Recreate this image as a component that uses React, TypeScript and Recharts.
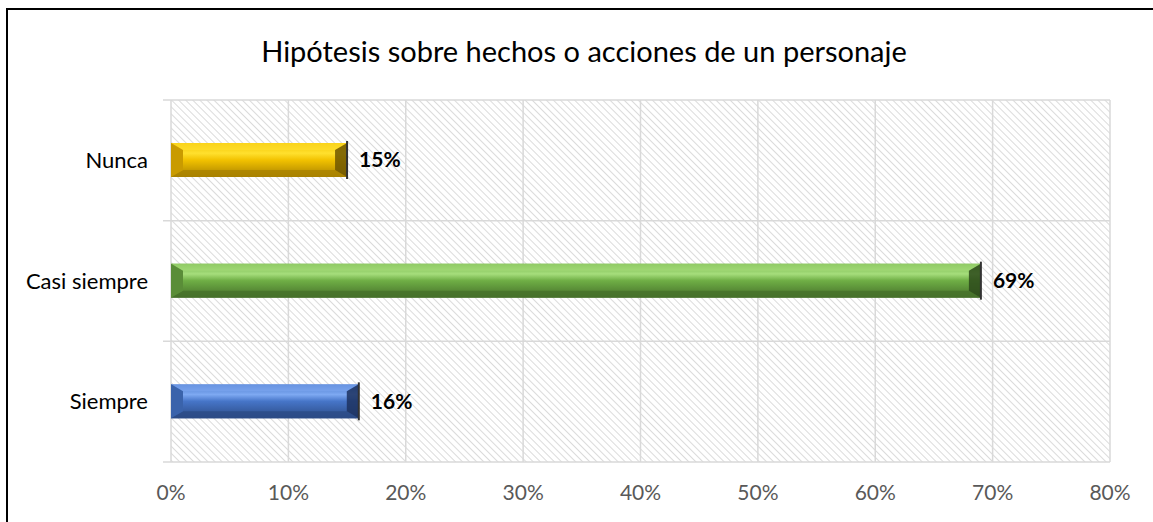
import { BarChart, Bar, XAxis, YAxis, CartesianGrid, LabelList, Cell } from "recharts";

const categories = ["Nunca", "Casi siempre", "Siempre"];
const values = [0.15, 0.69, 0.16];
const xTicks = [0, 0.1, 0.2, 0.3, 0.4, 0.5, 0.6, 0.7, 0.8];

// light / highlight / dark / edge
const BAR_COLORS = [
  { top: "#f2c200", hi: "#ffe02e", low: "#a98200", side: "#c99b00", end: "#6e5600" },
  { top: "#6fae45", hi: "#a6de7c", low: "#46712b", side: "#5a8d38", end: "#2d4a1b" },
  { top: "#4675c8", hi: "#7ea9f2", low: "#2c4b86", side: "#3a63ab", end: "#1d3360" },
];

const FONT = "Lato, 'Liberation Sans', sans-serif";

const data = categories.map((name, i) => ({ name, value: values[i] }));
const pct = (v: number) => `${Math.round(v * 100)}%`;

function BevelBar(props: any) {
  const { x, y, width, height, index } = props;
  const c = BAR_COLORS[index % BAR_COLORS.length];
  const id = `g${index}`;
  const bx = Math.min(12, width / 3);
  const by = 7;
  return (
    <g>
      <defs>
        <linearGradient id={id} x1="0" y1="0" x2="0" y2="1">
          <stop offset="0" stopColor={c.top} />
          <stop offset="0.3" stopColor={c.hi} />
          <stop offset="0.5" stopColor={c.top} />
          <stop offset="1" stopColor={c.low} />
        </linearGradient>
      </defs>
      <rect x={x} y={y} width={width} height={height} fill={`url(#${id})`} />
      <polygon points={`${x},${y} ${x + width},${y} ${x + width - bx},${y + by} ${x + bx},${y + by}`} fill={c.hi} opacity={0.6} />
      <polygon points={`${x},${y + height} ${x + width},${y + height} ${x + width - bx},${y + height - by} ${x + bx},${y + height - by}`} fill={c.low} opacity={0.8} />
      <polygon points={`${x},${y} ${x + bx},${y + by} ${x + bx},${y + height - by} ${x},${y + height}`} fill={c.side} />
      <polygon points={`${x + width},${y} ${x + width - bx},${y + by} ${x + width - bx},${y + height - by} ${x + width},${y + height}`} fill={c.end} opacity={0.85} />
      <line x1={x + width} y1={y - 2} x2={x + width} y2={y + height + 2} stroke="#333" strokeWidth={2} />
    </g>
  );
}

export default function App() {
  return (
    <div style={{ position: "absolute", left: 0, top: 0, width: 1153, height: 522, overflow: "hidden", background: "#fff", fontFamily: FONT }}>
      <div style={{ position: "absolute", left: 6, top: 8, width: 1300, height: 700, border: "2px solid #000" }} />
      <div style={{ position: "absolute", left: 0, top: 33, width: 1168, textAlign: "center", fontSize: 29, lineHeight: "36px", color: "#000" }}>
        Hipótesis sobre hechos o acciones de un personaje
      </div>
      <div style={{ position: "absolute", left: 0, top: 0 }}>
        <BarChart
          width={1153}
          height={522}
          data={data}
          layout="vertical"
          margin={{ top: 100, right: 43, bottom: 0, left: 0 }}
          barSize={34}
        >
          <defs>
            <pattern id="hatch" width="5" height="5" patternUnits="userSpaceOnUse" patternTransform="rotate(-45)">
              <line x1="0" y1="0" x2="0" y2="5" stroke="#c8c8c8" strokeWidth="1.3" />
            </pattern>
          </defs>
          <CartesianGrid
            fill="url(#hatch)"
            fillOpacity={1}
            stroke="#d9d9d9"
            strokeWidth={1.5}
            horizontalCoordinatesGenerator={({ offset }: any) =>
              [0, 1, 2, 3].map((i) => offset.top + (i * offset.height) / categories.length)
            }
            horizontal={(p: any) => (
              <line key={`h${p.y1}`} x1={p.x1 - 8} y1={p.y1} x2={p.x2} y2={p.y2} stroke="#d9d9d9" strokeWidth={1.5} />
            )}
          />
          <XAxis
            type="number"
            domain={[0, 0.8]}
            ticks={xTicks}
            tickFormatter={pct}
            axisLine={false}
            tickLine={false}
            height={60}
            tickMargin={17}
            tick={{ fill: "#595959", fontSize: 21, fontFamily: FONT }}
          />
          <YAxis
            type="category"
            dataKey="name"
            width={171}
            axisLine={false}
            tickLine={false}
            tickMargin={17}
            tick={{ fill: "#000", fontSize: 22, fontFamily: FONT }}
          />
          <Bar dataKey="value" shape={<BevelBar />} isAnimationActive={false}>
            {data.map((d, i) => (
              <Cell key={d.name} fill={BAR_COLORS[i].top} />
            ))}
            <LabelList
              dataKey="value"
              position="right"
              offset={12}
              formatter={(v: any) => pct(Number(v))}
              style={{ fill: "#000", fontSize: 21, fontWeight: 700, fontFamily: FONT }}
            />
          </Bar>
        </BarChart>
      </div>
    </div>
  );
}
